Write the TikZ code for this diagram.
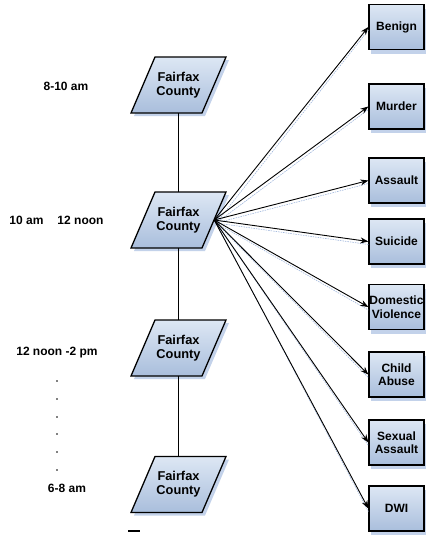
\documentclass[tikz,border=0pt]{standalone}
\usepackage{fontspec}
\setmainfont{Liberation Sans}
\usetikzlibrary{calc,arrows.meta,shadows}
\definecolor{fillTop}{HTML}{DDE7F4}
\definecolor{fillBot}{HTML}{A9BEDC}
\definecolor{shad}{HTML}{C3D2EA}
\definecolor{lshad}{HTML}{9FB6DC}
\begin{document}
\begin{tikzpicture}[x=1pt,y=-1pt,
  txt/.style={font=\bfseries\fontsize{12.8}{14}\selectfont, align=center, inner sep=0pt},
  para/.style={txt, minimum width=71pt, minimum height=56pt},
  parashape/.style={draw, line width=1.3pt, top color=fillTop, bottom color=fillBot},
  cbox/.style={font=\bfseries\fontsize{12}{13.5}\selectfont, align=center, inner sep=0pt,
    draw, line width=1.3pt, minimum width=55pt, minimum height=45pt,
    top color=fillTop, bottom color=fillBot,
    drop shadow={shadow xshift=1.5pt, shadow yshift=-4pt, fill=shad, opacity=1}},
  lab/.style={font=\bfseries\fontsize{12}{14}\selectfont, inner sep=0pt},
  conn/.style={line width=0.7pt},
  arr/.style={line width=0.9pt, -{Stealth[length=8pt,width=6pt]}},
  arrsh/.style={lshad, line width=0.6pt, dash pattern=on 1.5pt off 1pt},
]
\useasboundingbox (0,0) rectangle (426,536);

% parallelogram centres
\coordinate (c1) at (178.5,85);
\coordinate (c2) at (178.5,220);
\coordinate (c3) at (178.5,348);
\coordinate (c4) at (178.5,484.5);

\foreach \c in {c1,c2,c3,c4}{
  \fill[shad] ($(\c)+(-44.5,31)$) -- ($(\c)+(26.5,31)$) -- ($(\c)+(50.5,-25)$) -- ($(\c)+(-20.5,-25)$) -- cycle;
  \path[parashape] ($(\c)+(-47.5,28)$) -- ($(\c)+(23.5,28)$) -- ($(\c)+(47.5,-28)$) -- ($(\c)+(-23.5,-28)$) -- cycle;
}
\node[para] (n1) at (c1) {Fairfax\\County};
\node[para] (n2) at (c2) {Fairfax\\County};
\node[para] (n3) at (c3) {Fairfax\\County};
\node[para] (n4) at (c4) {Fairfax\\County};

\draw[conn] (n1.south) -- (n2.north);
\draw[conn] (n2.south) -- (n3.north);
\draw[conn] (n3.south) -- (n4.north);

% category boxes
\node[cbox] (b1) at (396.5,27) {Benign};
\node[cbox] (b2) at (396.5,106.5) {Murder};
\node[cbox] (b3) at (396.5,180.5) {Assault};
\node[cbox] (b4) at (396.5,241.5) {Suicide};
\node[cbox] (b5) at (396.5,307) {Domestic\\Violence};
\node[cbox] (b6) at (396.5,374.5) {Child\\Abuse};
\node[cbox] (b7) at (396.5,442.5) {Sexual\\Assault};
\node[cbox] (b8) at (396.5,508.5) {DWI};

\foreach \b in {b1,b2,b3,b4,b5,b6,b7,b8}{
  \draw[arrsh] ([shift={(2,3)}]n2.east) -- ([shift={(0,3)}]\b.west);
}
\foreach \b in {b1,b2,b3,b4,b5,b6,b7,b8}{
  \draw[arr] (n2.east) -- (\b.west);
}

% time labels
\node[lab] (t1) at (66,86) {8-10 am};
\node[lab] (t2) at (56.5,220) {10 am\hspace{14pt}12 noon};
\node[lab] (t3) at (57,353) {12 noon -2 pm};
\node[lab] (t4) at (67,488) {6-8 am};
\foreach \y in {381,399,417,434,452,470}{
  \fill (57,\y) circle (0.8);
}
\draw[line width=1.2pt] (128,531) -- (140,531);
\end{tikzpicture}
\end{document}
